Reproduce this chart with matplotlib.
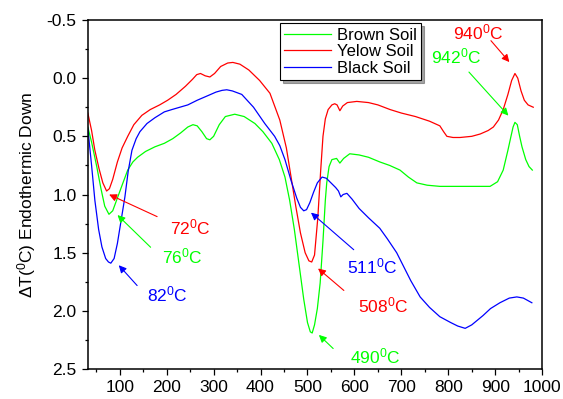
import numpy as np
import matplotlib
matplotlib.use('Agg')
import matplotlib.pyplot as plt
from matplotlib.ticker import MultipleLocator

plt.rcParams['font.family'] = ['Liberation Sans', 'DejaVu Sans']
plt.rcParams['mathtext.fontset'] = 'custom'
plt.rcParams['mathtext.rm'] = 'Liberation Sans'
plt.rcParams['mathtext.it'] = 'Liberation Sans:italic'

# Brown soil (green)
t_brown = [32, 40, 51, 60, 68, 77, 85, 95, 105, 117, 128, 138, 155, 175, 195, 213, 230, 245, 256, 265,
           275, 285, 292, 300, 312, 325, 345, 365, 388, 405, 424, 440, 452, 462, 472, 482, 492, 500, 506, 510,
           515, 521, 527, 533, 538, 541, 546, 552, 562, 569, 577, 590, 610, 630, 654, 675, 697, 715, 733, 755,
           782, 820, 860, 889, 905, 917, 927, 933, 938, 942, 947, 952, 957, 965, 972, 979]
dt_brown = [0.42, 0.55, 0.76, 0.95, 1.10, 1.17, 1.14, 1.03, 0.92, 0.79, 0.72, 0.68, 0.63, 0.59, 0.56, 0.52, 0.47, 0.42, 0.40, 0.41,
            0.46, 0.52, 0.53, 0.50, 0.40, 0.33, 0.31, 0.33, 0.39, 0.46, 0.56, 0.70, 0.85, 1.05, 1.30, 1.60, 1.90, 2.10, 2.18, 2.19,
            2.12, 1.98, 1.76, 1.40, 1.05, 0.90, 0.76, 0.70, 0.69, 0.73, 0.69, 0.65, 0.66, 0.68, 0.72, 0.75, 0.79, 0.85, 0.90, 0.92,
            0.93, 0.93, 0.93, 0.93, 0.89, 0.79, 0.62, 0.51, 0.42, 0.38, 0.40, 0.50, 0.59, 0.70, 0.76, 0.79]

# Yellow soil (red)
t_yellow = [32, 40, 47, 56, 64, 72, 78, 85, 95, 105, 117, 130, 147, 165, 185, 202, 220, 240, 255, 264,
            272, 282, 292, 302, 315, 330, 341, 356, 375, 398, 420, 441, 455, 465, 475, 485, 495, 503, 509, 515,
            522, 528, 533, 538, 544, 552, 558, 563, 569, 575, 585, 605, 630, 650, 676, 700, 730, 760, 782, 790,
            797, 810, 825, 850, 868, 885, 896, 907, 917, 927, 935, 942, 948, 955, 962, 970, 981]
dt_yellow = [0.30, 0.45, 0.62, 0.78, 0.90, 0.97, 0.95, 0.87, 0.72, 0.60, 0.50, 0.40, 0.32, 0.27, 0.23, 0.19, 0.14, 0.07, 0.01, -0.03,
             -0.04, -0.02, -0.01, -0.04, -0.10, -0.13, -0.135, -0.12, -0.07, 0.02, 0.13, 0.36, 0.60, 0.85, 1.10, 1.33, 1.50, 1.57, 1.58, 1.52,
             1.20, 0.80, 0.50, 0.35, 0.27, 0.23, 0.22, 0.23, 0.28, 0.24, 0.21, 0.20, 0.21, 0.23, 0.27, 0.30, 0.33, 0.37, 0.41, 0.46,
             0.50, 0.51, 0.51, 0.50, 0.48, 0.45, 0.42, 0.36, 0.27, 0.14, 0.02, -0.04, 0.00, 0.11, 0.19, 0.23, 0.25]

# Black soil (blue)
t_black = [32, 40, 47, 55, 62, 70, 76, 81, 88, 95, 103, 111, 118, 126, 135, 143, 158, 175, 195, 211,
           228, 245, 265, 288, 305, 318, 328, 340, 360, 385, 409, 430, 441, 452, 465, 477, 485, 492, 498, 505,
           513, 521, 531, 540, 550, 560, 566, 571, 576, 584, 595, 610, 630, 654, 670, 690, 705, 720, 740, 760,
           782, 805, 820, 836, 850, 874, 890, 910, 930, 946, 960, 978]
dt_black = [0.43, 0.75, 1.05, 1.30, 1.45, 1.55, 1.58, 1.59, 1.55, 1.42, 1.22, 1.02, 0.80, 0.62, 0.52, 0.46, 0.39, 0.34, 0.29, 0.27,
            0.25, 0.23, 0.19, 0.15, 0.12, 0.105, 0.10, 0.11, 0.14, 0.25, 0.39, 0.50, 0.58, 0.70, 0.88, 1.03, 1.11, 1.14, 1.13, 1.07,
            0.98, 0.90, 0.85, 0.86, 0.90, 0.94, 0.97, 1.02, 1.00, 0.99, 1.04, 1.12, 1.20, 1.29, 1.38, 1.50, 1.62, 1.74, 1.88, 1.97,
            2.05, 2.10, 2.13, 2.15, 2.12, 2.04, 1.98, 1.93, 1.89, 1.88, 1.89, 1.93]

# peak labels: text, text position, arrow tail, arrow head, colour
labels = ['72', '76', '82', '511', '508', '490', '940', '942']
label_pos = [(249, 1.28), (234, 1.53), (202, 1.86), (637, 1.62), (661, 1.95), (644, 2.39), (864, -0.39), (816, -0.19)]
arrow_tail = [(185, 1.20), (170, 1.47), (141, 1.80), (603, 1.49), (582, 1.84), (559, 2.34), (887, -0.34), (840, -0.07)]
arrow_head = [(72, 0.99), (91, 1.16), (94, 1.59), (503, 1.14), (518, 1.62), (520, 2.19), (934, -0.12), (932, 0.34)]
label_col = ['red', 'lime', 'blue', 'blue', 'red', 'lime', 'red', 'lime']

fig = plt.figure(figsize=(5.63, 3.99), dpi=100)
ax = fig.add_axes([0.156, 0.075, 0.807, 0.875])

ax.plot(t_brown, dt_brown, color='lime', lw=0.9, label='Brown Soil')
ax.plot(t_yellow, dt_yellow, color='red', lw=0.9, label='Yelow Soil')
ax.plot(t_black, dt_black, color='blue', lw=0.9, label='Black Soil')

for i in range(len(labels)):
    ax.annotate('', xy=arrow_head[i], xytext=arrow_tail[i],
                arrowprops=dict(arrowstyle='-|>', color=label_col[i], lw=0.8, mutation_scale=11))
    ax.text(label_pos[i][0], label_pos[i][1], labels[i] + r'$^{\mathrm{0}}$C', color=label_col[i],
            fontsize=12.5, ha='center', va='center')

ax.set_xlim(32, 1000)
ax.set_ylim(2.5, -0.5)
ax.xaxis.set_major_locator(MultipleLocator(100))
ax.xaxis.set_minor_locator(MultipleLocator(50))
ax.yaxis.set_major_locator(MultipleLocator(0.5))
ax.yaxis.set_minor_locator(MultipleLocator(0.25))
ax.set_xticks(np.arange(100, 1001, 100))
ax.set_yticks(np.arange(-0.5, 2.51, 0.5))
ax.set_yticklabels(['-0.5', '0.0', '0.5', '1.0', '1.5', '2.0', '2.5'])
ax.tick_params(which='both', direction='out', top=False, right=False, labelsize=12.5)
ax.tick_params(which='major', length=4.5, width=0.9)
ax.tick_params(which='minor', length=2.5, width=0.9)
for s in ax.spines.values():
    s.set_linewidth(1.1)

ax.set_ylabel(r'$\Delta$T($^{\mathrm{0}}$C) Endothermic Down', fontsize=12.5, labelpad=6)

leg = ax.legend(loc='upper left', bbox_to_anchor=(0.423, 0.99), fancybox=False, shadow=True,
                edgecolor='black', framealpha=1, fontsize=12, handlelength=2.8, labelspacing=0.1,
                borderpad=0.25, handletextpad=0.35, borderaxespad=0)
leg.get_frame().set_linewidth(0.8)

plt.savefig('out.png', dpi=100)
